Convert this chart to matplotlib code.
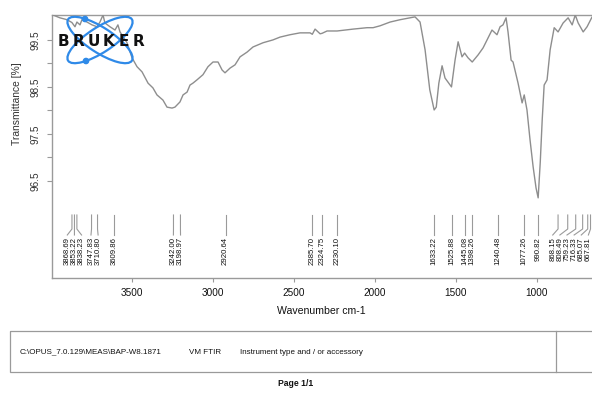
import matplotlib
matplotlib.use("Agg")
import matplotlib.pyplot as plt
from matplotlib.patches import Ellipse, Rectangle, Circle
import numpy as np

plt.rcParams['font.family'] = ['Liberation Sans', 'DejaVu Sans']

# FTIR spectrum: wavenumber (cm-1) and transmittance (%)
wavenumber = [3986, 3943, 3899, 3869, 3850, 3838, 3819, 3807, 3776, 3745, 3714,
              3696, 3677, 3665, 3634, 3603, 3585, 3572, 3529, 3498, 3467, 3436,
              3399, 3369, 3344, 3307, 3282, 3251, 3233, 3202, 3183, 3158, 3140,
              3122, 3097, 3060, 3029, 2998, 2967, 2942, 2924, 2893, 2862, 2831,
              2788, 2751, 2689, 2628, 2584, 2523, 2461, 2399, 2385, 2368, 2337,
              2325, 2294, 2232, 2133, 2047, 2010, 1967, 1905, 1843, 1782, 1751,
              1720, 1689, 1660, 1633, 1620, 1604, 1584, 1566, 1526, 1504, 1485,
              1461, 1445, 1424, 1398, 1362, 1331, 1276, 1245, 1226, 1208, 1189,
              1177, 1158, 1146, 1115, 1090, 1077, 1060, 1041, 1022, 1004, 991,
              978, 966, 954, 936, 917, 892, 868, 837, 806, 781, 762, 744, 713,
              689, 658, 630, 600, 560, 520, 480, 450]
transmittance = [100.03, 99.97, 99.93, 99.87, 99.78, 99.88, 99.82, 99.93, 99.88,
                 99.82, 99.78, 99.88, 100.03, 99.86, 99.78, 99.71, 99.82, 99.67,
                 99.44, 99.12, 98.93, 98.82, 98.58, 98.48, 98.33, 98.22, 98.07,
                 98.05, 98.07, 98.18, 98.33, 98.39, 98.54, 98.58, 98.65, 98.76,
                 98.93, 99.03, 99.03, 98.86, 98.80, 98.90, 98.97, 99.14, 99.24,
                 99.35, 99.44, 99.50, 99.56, 99.61, 99.65, 99.65, 99.62, 99.73,
                 99.63, 99.64, 99.69, 99.69, 99.73, 99.76, 99.76, 99.80, 99.88,
                 99.93, 99.97, 99.99, 99.88, 99.29, 98.44, 98.01, 98.07, 98.58,
                 98.95, 98.69, 98.50, 99.07, 99.46, 99.14, 99.22, 99.12, 99.03,
                 99.18, 99.33, 99.71, 99.61, 99.78, 99.82, 99.97, 99.67, 99.07,
                 99.03, 98.58, 98.16, 98.33, 98.01, 97.37, 96.80, 96.35, 96.14,
                 96.90, 97.80, 98.54, 98.65, 99.29, 99.76, 99.67, 99.86, 99.97,
                 99.82, 100.03, 99.86, 99.67, 99.78, 99.99, 99.85, 99.90, 99.80,
                 99.75, 99.82, 99.85]

# Picked peaks
peak_labels = ["3868.69", "3853.22", "3838.23", "3747.83", "3710.80", "3609.86",
               "3242.00", "3198.97", "2920.64", "2385.70", "2324.75", "2230.10",
               "1633.22", "1525.88", "1445.08", "1398.26", "1240.48", "1077.26",
               "990.82", "868.15", "808.49", "759.23", "716.33", "685.07",
               "667.81"]
peak_positions = [float(s) for s in peak_labels]

x_ticks = [3500, 3000, 2500, 2000, 1500, 1000]
y_major = [96.5, 97.5, 98.5, 99.5]
y_minor = [97.0, 98.0, 99.0]

W, H = 592, 393
fig = plt.figure(figsize=(W / 100, H / 100), dpi=100)

# main spectrum axes, in pixel geometry
x_left_px, x_right_px = 52.3, 625.8
y_top_px, y_bot_px = 15, 278
ax = fig.add_axes([x_left_px / W, 1 - y_bot_px / H,
                   (x_right_px - x_left_px) / W, (y_bot_px - y_top_px) / H])
ax.set_xlim(3990, 450)
ax.set_ylim(94.435, 100.03)

spine_col = '#9a9a9a'
for s in ['left', 'top', 'bottom', 'right']:
    ax.spines[s].set_color(spine_col)
    ax.spines[s].set_linewidth(1.0)

ax.plot(wavenumber, transmittance, color='#8e8e8e', lw=1.0, zorder=3)

ax.set_xticks(x_ticks)
ax.set_xticklabels([str(t) for t in x_ticks])
ax.set_yticks(y_major)
ax.set_yticklabels([str(v) for v in y_major])
ax.set_yticks(y_minor, minor=True)
ax.tick_params(axis='x', direction='out', length=3, width=0.8, color=spine_col,
               labelsize=7.2, pad=4.5, labelcolor='#111111')
ax.tick_params(axis='y', which='both', direction='out', length=3.5, width=0.8,
               color=spine_col, labelsize=7.2, pad=5, labelcolor='#333333',
               labelrotation=90)
for lbl in ax.get_yticklabels():
    lbl.set_va('center')

# peak markers with spread labels
def px_to_T(ypx):
    return 100.03 - (ypx - y_top_px) * (100.03 - 94.435) / (y_bot_px - y_top_px)

gap = 44.0
order = np.argsort(peak_positions)[::-1]
pos = [peak_positions[i] for i in order]
groups = [[p] for p in pos]
changed = True
label_x = pos[:]
while changed:
    changed = False
    centers = []
    for g in groups:
        c = np.mean(g)
        n = len(g)
        centers.append([c + gap * (n - 1) / 2 - gap * k for k in range(n)])
    new_groups = [groups[0]]
    new_centers = [centers[0]]
    for g, c in zip(groups[1:], centers[1:]):
        if new_centers[-1][-1] - c[0] < gap:
            merged = new_groups[-1] + g
            new_groups[-1] = merged
            m = np.mean(merged)
            n = len(merged)
            new_centers[-1] = [m + gap * (n - 1) / 2 - gap * k for k in range(n)]
            changed = True
        else:
            new_groups.append(g)
            new_centers.append(c)
    groups = new_groups
    label_x = [v for c in new_centers for v in c]
# keep labels inside the visible range
left_bound, right_bound = 3900, 681
label_x[0] = min(label_x[0], left_bound)
for k in range(1, len(label_x)):
    label_x[k] = min(label_x[k], label_x[k - 1] - gap)
label_x[-1] = max(label_x[-1], right_bound)
for k in range(len(label_x) - 2, -1, -1):
    label_x[k] = max(label_x[k], label_x[k + 1] + gap)

T_top, T_bend, T_end, T_txt = px_to_T(215), px_to_T(229), px_to_T(235), px_to_T(237)
for k, i in enumerate(order):
    p = peak_positions[i]
    lx = label_x[k]
    ax.plot([p, p, lx, lx], [T_top, T_bend, T_end, T_end], color='#9a9a9a',
            lw=0.8, zorder=2)
    ax.text(lx, T_txt, peak_labels[i], rotation=90, ha='center', va='top',
            fontsize=5.6, color='#111111')

# overlay in pixel coordinates for logo and footer
ov = fig.add_axes([0, 0, 1, 1], zorder=5)
ov.set_xlim(0, W)
ov.set_ylim(H, 0)
ov.axis('off')
ov.patch.set_visible(False)

blue = '#2f8ae8'
ov.add_patch(Ellipse((100, 40), 76, 25, angle=33, fill=False, ec=blue, lw=1.6))
ov.add_patch(Ellipse((100, 40), 76, 25, angle=-33, fill=False, ec=blue, lw=1.6))
ov.add_patch(Circle((85, 19), 2.6, color=blue))
ov.add_patch(Circle((86, 61), 2.6, color=blue))
for j, ch in enumerate("BRUKER"):
    ov.text(63 + j * 15.2, 42, ch, fontsize=11, fontweight='bold',
            family='DejaVu Sans', color='#111111', ha='center', va='center')

fig.text(17 / W, 1 - 104 / H, "Transmittance [%]", rotation=90, ha='center',
         va='center', fontsize=7.4, color='#333333')
fig.text(321 / W, 1 - 311 / H, "Wavenumber cm-1", ha='center', va='center',
         fontsize=7.6, color='#111111')

ov.add_patch(Rectangle((10, 331), 620, 41, fill=False, ec='#9a9a9a', lw=0.9))
ov.plot([556, 556], [331, 372], color='#9a9a9a', lw=0.9)
ov.text(20, 352, "C:\\OPUS_7.0.129\\MEAS\\BAP-W8.1871", fontsize=5.8,
        va='center', ha='left', color='#111111')
ov.text(189, 352, "VM FTIR", fontsize=5.8, va='center', ha='left', color='#111111')
ov.text(240, 352, "Instrument type and / or accessory", fontsize=5.8,
        va='center', ha='left', color='#111111')
ov.text(296, 384, "Page 1/1", fontsize=6.2, va='center', ha='center',
        color='#111111', fontweight='bold')

fig.savefig("out.png", dpi=100)
